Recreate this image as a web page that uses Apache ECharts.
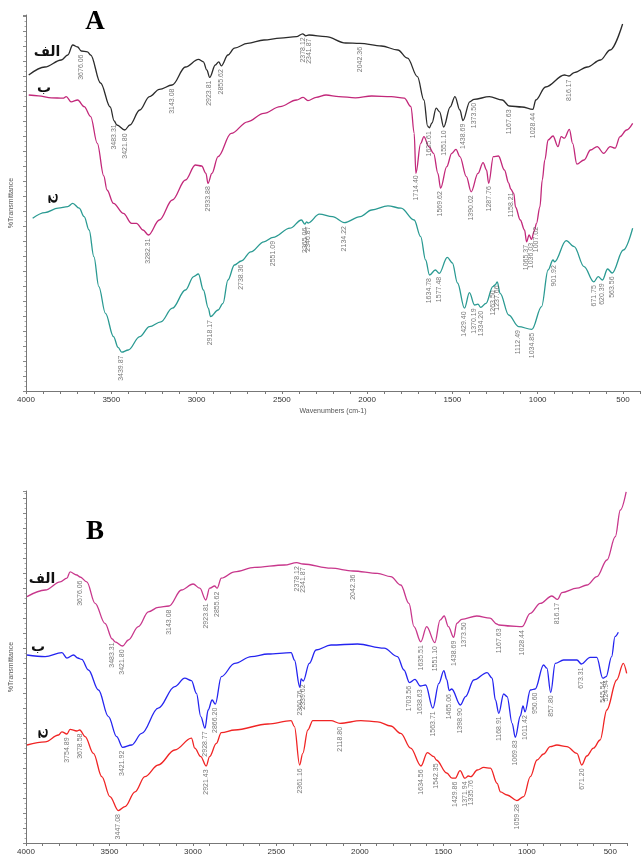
<!DOCTYPE html>
<html>
<head>
<meta charset="utf-8">
<script src="https://cdn.jsdelivr.net/npm/echarts@6/dist/echarts.min.js"></script>
<style>
  html, body { margin: 0; padding: 0; background: #fff; }
  #chart { width: 643px; height: 857px; }
</style>
</head>
<body>
<div id="chart"></div>
<script>
// spectra: [wavenumber, transmittance (arb. units)]
// panel A
const specA1 = [[3984,79],[3889,81],[3793,82.75],[3755,84],[3726,86.5],[3697,86],[3676,85],[3640,84.8],[3621,84],[3563,77],[3506,71],[3483,67.5],[3467,66.5],[3421,65.25],[3391,66.5],[3333,70.25],[3276,73.6],[3218,75.4],[3143,76.5],[3065,81],[2989,82.9],[2960,82.3],[2940,80.25],[2923,78.4],[2890,81.5],[2870,82.3],[2855,81.3],[2816,84],[2778,85.7],[2701,86.9],[2605,87.75],[2510,88.2],[2414,88.6],[2378,89.3],[2360,88.8],[2341,89],[2241,88.6],[2126,87],[2042,86.9],[1916,86.25],[1820,85.25],[1763,83.2],[1705,78.6],[1667,72.75],[1645,66.2],[1635,65.8],[1620,67],[1595,70.7],[1575,69.8],[1551,66],[1513,71],[1485,73.6],[1456,70.25],[1438,67.6],[1398,72.3],[1373,72.9],[1283,73.6],[1207,72.75],[1167,71.25],[1092,71],[1028,70.4],[1011,72.75],[954,76],[843,79],[816,78.75],[786,79.6],[709,81],[632,82.75],[575,85.25],[502,91.75]];
const specA2 = [[3984,74],[3927,73.8],[3851,73.3],[3783,73.2],[3764,73.6],[3736,72.3],[3697,72.75],[3659,71.1],[3621,68.6],[3582,61.9],[3544,53.75],[3525,50.25],[3487,46.9],[3429,44.4],[3381,41.9],[3352,41.9],[3314,40.25],[3282,39],[3218,42.75],[3142,47.75],[3065,52.75],[3007,56.5],[2970,56.25],[2945,54.4],[2933,51.9],[2910,54.4],[2874,58.6],[2797,64.4],[2701,67.3],[2606,69.4],[2510,71.1],[2414,72.75],[2375,73.4],[2347,72.6],[2299,73.4],[2241,74],[2165,73.6],[2069,73.3],[1973,73.75],[1858,73.6],[1782,73.2],[1743,71.1],[1724,64.4],[1714,54.4],[1686,61.9],[1667,63.6],[1638,61.1],[1610,59.4],[1585,54.4],[1569,50.7],[1533,56.1],[1504,59.4],[1479,60.4],[1456,58.6],[1418,53.6],[1390,49.8],[1350,54.4],[1320,57.1],[1300,55.25],[1287,51.9],[1260,58.6],[1230,58.75],[1195,55.25],[1170,52],[1158,50.5],[1140,49.4],[1130,46],[1102,42.75],[1077,40.25],[1065,37.3],[1050,39],[1036,37.9],[1020,40],[1007,41.9],[987,46],[973,52.75],[958,57.75],[939,62.75],[910,63.75],[881,61.1],[862,63.6],[843,63.2],[814,65.4],[795,61.9],[770,56.7],[728,57.75],[690,60.25],[651,61.1],[613,59.4],[575,61.1],[546,60.7],[517,63.6],[479,65.25],[443,66.9]];
const specA3 = [[3961,43.2],[3889,44.6],[3812,45.7],[3755,46.1],[3726,46.9],[3688,45.7],[3659,43.6],[3630,40.25],[3602,33.6],[3573,26.1],[3534,19.4],[3487,13.6],[3460,10.9],[3439,9.7],[3400,10.25],[3333,13.6],[3276,16.1],[3209,17.3],[3142,20.7],[3065,25.25],[3017,28.6],[2989,29.25],[2960,25.25],[2931,20.7],[2918,18.6],[2874,20.25],[2845,21.9],[2816,27.75],[2778,31.5],[2738,32.5],[2682,34.8],[2605,37.3],[2551,38.4],[2452,40.7],[2385,42.75],[2365,41.7],[2355,42.3],[2346,42],[2280,44.2],[2203,43.6],[2134,42.1],[2040,43.6],[1973,45.25],[1878,46.3],[1801,45.7],[1724,42.75],[1686,38.6],[1657,32.75],[1634,29],[1600,30.25],[1577,29.4],[1530,33.4],[1500,32],[1470,27],[1429,20.7],[1400,24.6],[1370,21.5],[1350,21.7],[1334,20.9],[1303,21.9],[1263,26.1],[1250,26.5],[1237,27.3],[1220,24.4],[1170,19],[1112,16.1],[1034,15.4],[977,21.1],[939,30.25],[910,32.75],[901,32.3],[833,37.6],[786,36.1],[728,31.1],[671,27.3],[645,28.6],[620,27.75],[590,30.5],[563,29.5],[498,35.25],[443,40.7]];
// panel B
const specB1 = [[3994,61.6],[3885,63.25],[3795,65.3],[3755,66.2],[3736,67.8],[3696,67],[3676,66.5],[3636,65.3],[3586,59.9],[3527,54.9],[3483,51],[3467,50.3],[3421,49.25],[3387,50.75],[3327,54.1],[3267,57.8],[3208,58.9],[3143,59.25],[3069,63.25],[2999,64.75],[2959,63.7],[2923,60.75],[2900,63.7],[2870,64.25],[2855,63.7],[2830,66.2],[2750,67.8],[2631,68.9],[2452,69.5],[2378,70.1],[2341,69.75],[2173,68.7],[2042,68],[1894,67.4],[1815,66.6],[1755,64.5],[1706,59.9],[1676,54.1],[1635,50.3],[1600,54.1],[1551,50.1],[1520,55.7],[1495,56.75],[1470,54.1],[1438,51.4],[1420,54.9],[1390,55.9],[1300,56.75],[1220,56.2],[1180,54.75],[1167,54.5],[1100,54.25],[1028,54.1],[980,57.4],[920,59.9],[850,61.75],[816,60.9],[790,62.6],[700,63.7],[640,64.5],[580,66.6],[520,70.75],[470,76.6],[440,83.25],[405,87.8]];
const specB2 = [[3994,47],[3885,46.6],[3785,47.6],[3755,46.2],[3715,47],[3690,46.25],[3666,45.9],[3626,43.25],[3566,38.25],[3506,31.6],[3457,26.6],[3421,23.9],[3367,24.5],[3307,27.4],[3208,33.7],[3109,39.1],[3049,41.2],[3009,40.6],[2979,37.4],[2953,31.6],[2928,28.7],[2909,33.25],[2885,35.75],[2866,34.7],[2830,41.6],[2750,44.9],[2651,46.6],[2551,47.25],[2412,47.6],[2392,45.75],[2360,38.9],[2352,41],[2339,40.5],[2303,44.9],[2263,48.25],[2173,49.5],[2014,49.75],[1855,48.7],[1775,46.6],[1736,43.25],[1703,40.1],[1670,40.9],[1638,39.25],[1606,39.5],[1563,33.7],[1527,39.9],[1497,43.1],[1480,40.9],[1465,38.1],[1450,38.5],[1398,34.5],[1367,36.6],[1318,40.75],[1238,42.6],[1208,41.2],[1188,35.75],[1168,32.4],[1139,37.25],[1118,36.6],[1088,29.9],[1069,26.4],[1039,31.75],[1023,34.25],[1011,32.8],[979,38.25],[950,38.5],[900,44.5],[880,43.7],[857,37.6],[830,44.9],[780,45.75],[700,45.75],[673,44.75],[621,46.4],[581,46.4],[545,41.2],[525,41.6],[492,46.6],[472,51.6],[452,52.7]];
const specB3 = [[3994,24.5],[3885,25.3],[3805,27],[3785,27.8],[3755,27.25],[3736,28.4],[3696,28],[3678,28.25],[3646,26.6],[3596,22.4],[3546,16.6],[3497,11.6],[3447,8.1],[3407,9.1],[3347,12.8],[3288,16.6],[3208,19.5],[3109,23.25],[3009,26.2],[2989,23.7],[2953,21.6],[2921,19.25],[2900,21.6],[2860,24.9],[2830,27.6],[2750,28.25],[2551,29.75],[2412,30.6],[2392,29.1],[2361,19.5],[2342,22.4],[2312,28.25],[2282,30.6],[2173,30.6],[2119,29.9],[1994,30.6],[1894,30.3],[1815,29.25],[1755,27.4],[1696,23.7],[1634,19.25],[1596,22.6],[1557,21.6],[1542,20.75],[1480,17.5],[1448,16.2],[1429,16.2],[1400,18.1],[1371,16.2],[1350,16.75],[1335,16.6],[1297,18.25],[1258,18.9],[1218,18.7],[1178,14.9],[1158,12.8],[1118,12],[1059,10.6],[1019,11.6],[979,16.6],[939,20.75],[900,22.25],[860,24.1],[820,24.5],[760,24.1],[700,22.4],[671,19.5],[641,21.75],[601,23.7],[561,25.75],[521,33.25],[462,40.75],[422,44.9],[402,42.4]];

// peak labels
const peaksA1 = ['3676.06','3483.31','3421.80','3143.08','2923.81','2855.62','2378.12','2341.87','2042.36','1635.61','1551.10','1438.69','1373.50','1167.63','1028.44','816.17'];
const peaksA2 = ['3282.31','2933.88','1714.40','1569.62','1390.02','1287.76','1158.21','1065.37','1036.03','1007.02'];
const peaksA3 = ['3439.87','2918.17','2738.36','2551.09','2365.06','2346.87','2134.22','1634.78','1577.48','1429.40','1370.19','1334.20','1263.50','1237.66','1112.49','1034.85','901.92','671.75','620.39','563.56'];
const peaksB1 = ['3676.06','3483.31','3421.80','3143.08','2923.81','2855.62','2378.12','2341.87','2042.36','1635.51','1551.10','1438.69','1373.50','1167.63','1028.44','816.17'];
const peaksB2 = ['3421.92','2928.77','2866.20','2360.76','2339.62','1703.56','1638.63','1563.71','1465.06','1398.90','1168.91','1069.83','1011.42','950.60','857.80','673.31','545.54','524.94'];
const peaksB3 = ['3754.89','3678.58','3447.08','2921.43','2361.16','2118.80','1634.56','1542.35','1429.86','1371.94','1335.76','1059.28','671.20'];

const tickLabels = [4000, 3500, 3000, 2500, 2000, 1500, 1000, 500];

// value of a spectrum at a wavenumber (for placing the peak labels)
function valueAt(spec, w) {
  for (let i = 0; i < spec.length - 1; i++) {
    if (spec[i][0] >= w && spec[i + 1][0] <= w) {
      const t = (spec[i][0] - w) / (spec[i][0] - spec[i + 1][0]);
      return spec[i][1] + t * (spec[i + 1][1] - spec[i][1]);
    }
  }
  return spec[spec.length - 1][1];
}

function lineSeries(spec, color, idx) {
  return {
    type: 'line', xAxisIndex: idx, yAxisIndex: idx, data: spec,
    showSymbol: false, smooth: 0.35, smoothMonotone: 'x',
    lineStyle: { color: color, width: 1.3 }, z: 2
  };
}

function peakSeries(spec, peaks, idx) {
  return {
    type: 'scatter', xAxisIndex: idx, yAxisIndex: idx,
    symbolSize: 1, itemStyle: { color: 'rgba(0,0,0,0)' }, z: 3,
    data: peaks.map(s => [parseFloat(s), valueAt(spec, parseFloat(s)), s]),
    label: {
      show: true, formatter: p => p.data[2], rotate: 90,
      position: 'bottom', distance: 3, align: 'right', verticalAlign: 'middle',
      fontSize: 7, fontFamily: 'Liberation Sans', color: '#555'
    }
  };
}

function xAxis(idx, name) {
  return {
    gridIndex: idx, type: 'value', inverse: true, min: 400, max: 4000, interval: 100,
    axisLine: { lineStyle: { color: '#777', width: 1 } },
    axisTick: { length: 3, lineStyle: { color: '#777' } },
    axisLabel: {
      formatter: v => tickLabels.includes(v) ? String(v) : '',
      fontSize: 8, fontFamily: 'Liberation Sans', color: '#333', margin: 5
    },
    splitLine: { show: false },
    name: name, nameLocation: 'middle', nameGap: 17,
    nameTextStyle: { fontSize: 7, fontFamily: 'Liberation Sans', color: '#555' }
  };
}

function yAxis(idx, max) {
  return {
    gridIndex: idx, type: 'value', min: 0, max: max, interval: 3.75,
    axisLine: { show: true, lineStyle: { color: '#777', width: 1 } },
    axisTick: { show: true, length: 3, lineStyle: { color: '#888' } },
    minorTick: { show: true, splitNumber: 3, length: 1.5, lineStyle: { color: '#aaa' } },
    axisLabel: { show: false },
    splitLine: { show: false },
    name: '%Transmittance', nameLocation: 'middle', nameGap: 11,
    nameTextStyle: { fontSize: 7, fontFamily: 'Liberation Sans', color: '#555' }
  };
}

const chart = echarts.init(document.getElementById('chart'));
chart.setOption({
  animation: false,
  backgroundColor: '#fff',
  grid: [
    { left: 24, top: 15, width: 626.4, height: 376 },
    { left: 24, top: 491, width: 603, height: 352 }
  ],
  xAxis: [xAxis(0, 'Wavenumbers (cm-1)'), xAxis(1, '')],
  yAxis: [yAxis(0, 94), yAxis(1, 88)],
  series: [
    lineSeries(specA1, '#2b2b2b', 0),
    lineSeries(specA2, '#c2287a', 0),
    lineSeries(specA3, '#2a9a92', 0),
    lineSeries(specB1, '#c8378c', 1),
    lineSeries(specB2, '#2424f0', 1),
    lineSeries(specB3, '#f02424', 1),
    peakSeries(specA1, peaksA1, 0),
    peakSeries(specA2, peaksA2, 0),
    peakSeries(specA3, peaksA3, 0),
    peakSeries(specB1, peaksB1, 1),
    peakSeries(specB2, peaksB2, 1),
    peakSeries(specB3, peaksB3, 1)
  ],
  graphic: [
    { type: 'text', x: 95, y: 22, style: { text: 'A', font: 'bold 27px "Liberation Serif"', fill: '#000', align: 'center', verticalAlign: 'middle' } },
    { type: 'text', x: 95, y: 532, style: { text: 'B', font: 'bold 27px "Liberation Serif"', fill: '#000', align: 'center', verticalAlign: 'middle' } },
    { type: 'text', x: 47, y: 52, style: { text: 'الف', font: 'bold 14px "DejaVu Sans"', fill: '#111', align: 'center', verticalAlign: 'middle' } },
    { type: 'text', x: 44, y: 88, style: { text: 'ب', font: 'bold 14px "DejaVu Sans"', fill: '#111', align: 'center', verticalAlign: 'middle' } },
    { type: 'text', x: 50, y: 199, rotation: Math.PI / 2, style: { text: 'ج', font: 'bold 14px "DejaVu Sans"', fill: '#111', align: 'center', verticalAlign: 'middle' } },
    { type: 'text', x: 42, y: 579, style: { text: 'الف', font: 'bold 14px "DejaVu Sans"', fill: '#111', align: 'center', verticalAlign: 'middle' } },
    { type: 'text', x: 38, y: 647, style: { text: 'ب', font: 'bold 14px "DejaVu Sans"', fill: '#111', align: 'center', verticalAlign: 'middle' } },
    { type: 'text', x: 40, y: 734, rotation: Math.PI / 2, style: { text: 'ج', font: 'bold 14px "DejaVu Sans"', fill: '#111', align: 'center', verticalAlign: 'middle' } }
  ]
});
</script>
</body>
</html>
